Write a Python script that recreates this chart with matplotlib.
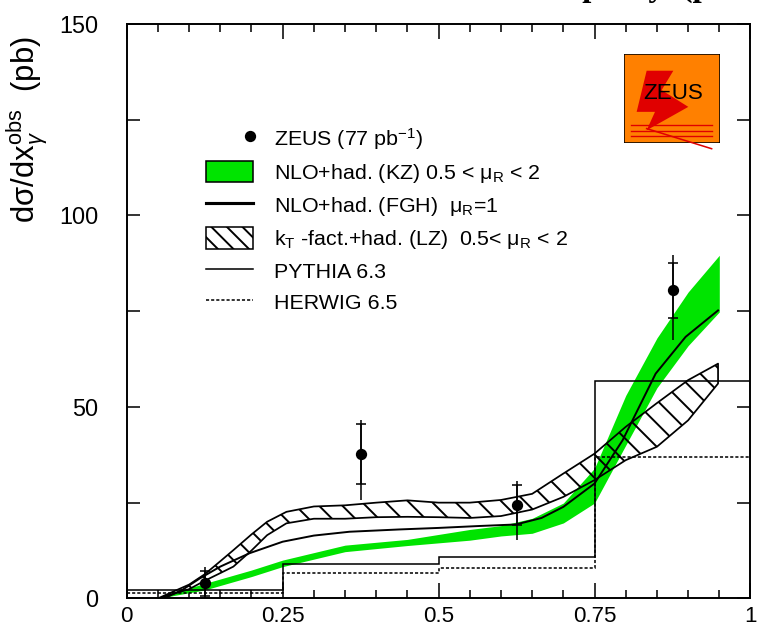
import matplotlib
matplotlib.use('Agg')
import matplotlib.pyplot as plt
from matplotlib.patches import Patch, Polygon, Rectangle
from matplotlib.lines import Line2D
from matplotlib.legend_handler import HandlerBase
from matplotlib.ticker import MultipleLocator

# ---- data ----
bin_edges = [0.0, 0.25, 0.5, 0.75, 1.0]
pythia = [2.2, 9.0, 10.9, 56.7]
herwig = [1.3, 6.5, 8.0, 37.0]

zeus_x = [0.125, 0.375, 0.625, 0.875]
zeus_y = [3.9, 37.7, 24.4, 80.5]
stat_err = [3.3, 7.8, 5.3, 7.2]
tot_lo = [3.9, 12.0, 9.2, 12.9]
tot_hi = [4.3, 8.9, 6.3, 9.3]

kz_x = [0.05, 0.125, 0.2, 0.25, 0.35, 0.45, 0.55, 0.6, 0.65, 0.7, 0.75, 0.8, 0.85, 0.9, 0.95]
kz_lo = [0.0, 2.2, 5.7, 8.3, 12.2, 13.8, 15.2, 16.3, 17.0, 19.7, 24.9, 40.0, 55.0, 66.0, 74.8]
kz_hi = [0.3, 3.9, 7.4, 10.0, 13.9, 15.4, 18.0, 19.0, 20.9, 24.9, 34.0, 53.0, 68.0, 80.0, 89.6]

fgh_x = [0.06, 0.09, 0.117, 0.15, 0.197, 0.25, 0.3, 0.357, 0.437, 0.5, 0.565, 0.624, 0.665, 0.7, 0.75, 0.795, 0.848, 0.896, 0.948]
fgh_y = [0.0, 2.3, 5.2, 8.3, 11.8, 14.8, 16.4, 17.4, 18.0, 18.4, 18.9, 19.3, 21.0, 23.9, 30.0, 41.3, 58.7, 68.3, 75.2]

lz_x = [0.05, 0.1, 0.125, 0.15, 0.171, 0.2, 0.225, 0.256, 0.3, 0.35, 0.4, 0.45, 0.5, 0.55, 0.6, 0.65, 0.7, 0.75, 0.8, 0.85, 0.9, 0.948]
lz_hi = [0.0, 3.6, 6.3, 9.7, 12.6, 16.7, 20.0, 22.6, 24.0, 24.3, 25.0, 25.6, 25.0, 25.0, 25.7, 27.3, 32.6, 37.8, 44.8, 51.0, 57.0, 61.3]
lz_lo = [0.0, 2.4, 4.6, 6.6, 8.3, 12.5, 16.5, 19.6, 20.8, 20.8, 21.2, 21.3, 21.2, 21.0, 21.5, 23.2, 26.5, 30.9, 36.1, 39.6, 46.5, 56.1]

xticks = [0, 0.25, 0.5, 0.75, 1]
xtick_labels = ['0', '0.25', '0.5', '0.75', '1']
yticks = [0, 50, 100, 150]

legend_labels = ['ZEUS (77 pb$^{-1}$)',
                 'NLO+had. (KZ) 0.5 < μ$_{\\rm R}$ < 2',
                 'NLO+had. (FGH)  μ$_{\\rm R}$=1',
                 'k$_{\\rm T}$ -fact.+had. (LZ)  0.5< μ$_{\\rm R}$ < 2',
                 'PYTHIA 6.3',
                 'HERWIG 6.5']

green = '#00e400'

plt.rcParams['font.family'] = ['Liberation Sans', 'DejaVu Sans']
plt.rcParams['mathtext.fontset'] = 'custom'
plt.rcParams['mathtext.rm'] = 'Liberation Sans'
plt.rcParams['mathtext.it'] = 'Liberation Sans:italic'
plt.rcParams['mathtext.bf'] = 'Liberation Sans:bold'
plt.rcParams['hatch.linewidth'] = 1.0

DPI = 140
fig = plt.figure(figsize=(757 / DPI, 630 / DPI), dpi=DPI)
ax = fig.add_axes([0.1674, 0.0502, 0.824, 0.9117])

ax.fill_between(kz_x, kz_lo, kz_hi, color=green, lw=0, zorder=2)
ax.plot(fgh_x, fgh_y, color='k', lw=1.0, zorder=3)
ax.fill_between(lz_x, lz_lo, lz_hi, facecolor='none', edgecolor='k',
                hatch='\\\\', lw=0.9, zorder=4)
ax.stairs(pythia, bin_edges, baseline=None, edgecolor='k', lw=0.8, zorder=3)
ax.stairs(herwig, bin_edges, baseline=None, edgecolor='k', lw=0.8,
          linestyle=(0, (2.0, 1.3)), zorder=3)

ax.errorbar(zeus_x, zeus_y, yerr=[tot_lo, tot_hi], fmt='none', ecolor='k',
            elinewidth=0.8, zorder=5)
ax.errorbar(zeus_x, zeus_y, yerr=stat_err, fmt='none', ecolor='k',
            elinewidth=0.8, capsize=2.7, capthick=0.8, zorder=5)
ax.plot(zeus_x, zeus_y, 'o', color='k', ms=4.8, zorder=6)

ax.set_xlim(0, 1)
ax.set_ylim(0, 150)
ax.set_xticks(xticks)
ax.set_xticklabels(xtick_labels)
ax.set_yticks(yticks)
ax.xaxis.set_minor_locator(MultipleLocator(0.05))
ax.yaxis.set_minor_locator(MultipleLocator(25))
ax.tick_params(which='both', direction='in', top=True, right=True, width=0.8)
ax.tick_params(axis='x', which='major', length=7.5, pad=4, labelsize=11.5)
ax.tick_params(axis='x', which='minor', length=4)
ax.tick_params(axis='y', which='major', length=6.5, pad=14.5, labelsize=12)
ax.tick_params(axis='y', which='minor', length=6.5)
for s in ax.spines.values():
    s.set_linewidth(1.0)

fig.text(0.036, 0.795, 'dσ/dx$_{γ}^{\\rm obs}$  (pb)', rotation=90,
         ha='center', va='center', fontsize=16)


class RightDot(HandlerBase):
    def create_artists(self, legend, orig_handle, xdescent, ydescent,
                       width, height, fontsize, trans):
        x = -xdescent + width - 0.15 * fontsize
        y = (height - ydescent) / 2
        m = Line2D([x], [y], marker='o', ls='none', color='k', ms=4.8,
                   transform=trans)
        return [m]


dot = Line2D([], [], marker='o', ls='none', color='k')
handles = [dot,
           Patch(facecolor=green, edgecolor='k', lw=0.8),
           Line2D([], [], color='k', lw=1.6),
           Patch(facecolor='white', edgecolor='k', hatch='\\\\\\', lw=0.8),
           Line2D([], [], color='k', lw=0.8),
           Line2D([], [], color='k', lw=0.8, ls=(0, (2.0, 1.3)))]
ax.legend(handles, legend_labels, loc='upper left', bbox_to_anchor=(0.127, 0.823),
          frameon=False, fontsize=11, handlelength=2.2, handleheight=1.2,
          handletextpad=1.0, labelspacing=0.42, borderpad=0, borderaxespad=0,
          handler_map={dot: RightDot()})

# clipped title at the very top
fig.text(0.728, 1.006, 'rapidity  (p', ha='left', va='baseline', fontsize=17,
         family='Liberation Serif', weight='bold')

# ZEUS logo
lax = fig.add_axes([0.8243, 0.773, 0.1268, 0.1413])
lax.set_xlim(0, 1)
lax.set_ylim(0, 1)
lax.axis('off')
lax.add_patch(Rectangle((0, 0), 1, 1, facecolor='#ff8000', edgecolor='k', lw=0.8))
bolt = [(0.236, 0.812), (0.514, 0.812), (0.392, 0.594), (0.670, 0.406),
        (0.236, 0.143), (0.323, 0.350), (0.132, 0.350)]
lax.add_patch(Polygon(bolt, closed=True, facecolor='#e00000', edgecolor='none'))
for yl in [0.199, 0.135, 0.075]:
    lax.plot([0.069, 0.913], [yl, yl], color='#e00000', lw=0.7)
lax.plot([0.236, 0.913], [0.162, -0.064], color='#e00000', lw=0.8, clip_on=False)
lax.text(0.514, 0.556, 'ZEUS', ha='center', va='center', fontsize=11.5,
         family=['Liberation Sans Narrow', 'Liberation Sans'])

fig.savefig('out.png', dpi=DPI)
